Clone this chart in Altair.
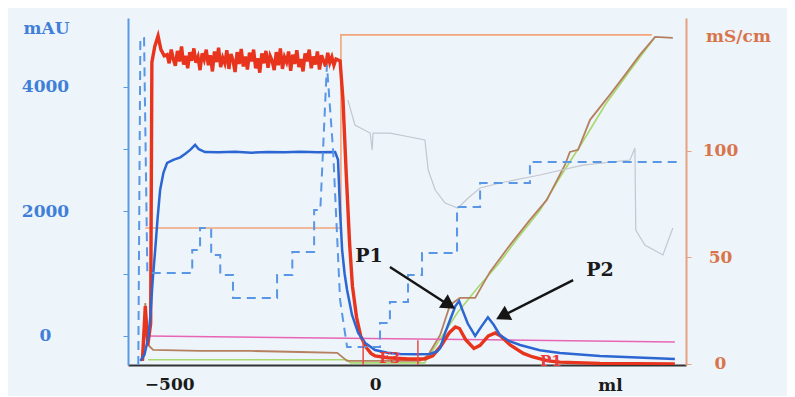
import altair as alt
import pandas as pd

# ---------------- data (x: ml ; left y: mAU ; right y: mS/cm) ----------------
# UV trace (red) – rise, noisy plateau, wash-out, elution peaks
red_pre_x = [-565, -558, -552, -545, -542, -535, -527, -520, -512]
red_pre_y = [-400, 480, -150, 200, 4400, 4650, 4820, 4600, 4500]
red_plat_x = list(range(-505, -94, 5))
red_plat_y = [4520, 4380, 4600, 4450, 4340, 4580, 4410, 4650, 4360, 4500,
              4300, 4560, 4420, 4620, 4390, 4480, 4270, 4540, 4440, 4600,
              4350, 4510, 4250, 4570, 4400, 4630, 4320, 4470, 4380, 4590,
              4290, 4530, 4430, 4240, 4560, 4370, 4610, 4330, 4490, 4280,
              4550, 4410, 4600, 4300, 4460, 4230, 4540, 4380, 4580, 4310,
              4500, 4420, 4270, 4560, 4350, 4620, 4290, 4480, 4400, 4570,
              4260, 4520, 4370, 4590, 4320, 4450, 4250, 4540, 4410, 4600,
              4300, 4490, 4360, 4570, 4280, 4510, 4420, 4330, 4550, 4390,
              4480, 4350, 4450]
red_post_x = [-85, -78, -70, -62, -55, -45, -35, -22, -10, 0, 30, 80, 120, 140,
              160, 180, 195, 205, 220, 240, 255, 275, 292, 305, 328, 360, 383,
              420, 449, 546, 728]
red_post_y = [4420, 3800, 2600, 1500, 800, 300, 0, -180, -280, -320, -350, -370,
              -370, -320, -160, 50, 145, 120, -60, -200, -150, 0, 48, 0, -145,
              -280, -337, -400, -420, -440, -450]

# second UV trace (blue, solid)
blue_x = [-570, -560, -550, -546, -540, -534, -528, -522, -514, -505, -490, -473,
          -460, -449, -437, -428, -413, -380, -340, -300, -260, -220, -182, -140,
          -97, -90, -85, -80, -74, -68, -56, -41, -24, 0, 30, 61, 100, 133, 150,
          158, 170, 182, 195, 204, 212, 225, 243, 258, 274, 288, 303, 325, 352,
          400, 449, 546, 728]
blue_y = [-400, -300, 0, 300, 900, 1380, 1900, 2345, 2620, 2780, 2830, 2870,
          2930, 2990, 3070, 3000, 2955, 2950, 2960, 2945, 2955, 2950, 2960, 2950,
          2955, 2830, 2000, 1380, 1000, 740, 337, 48, -112, -225, -270, -289, -295,
          -289, -250, -193, 50, 257, 480, 560, 420, 200, 0, 150, 300, 180, 16, -80,
          -145, -230, -273, -321, -370]

# step trace (blue, dashed)
dash_x = [-575, -570, -561, -553, -444, -444, -425, -425, -398, -398, -376, -376,
          -345, -345, -238, -238, -201, -201, -148, -148, -133, -117, -102, -85,
          -68, 12, 12, 36, 36, 80, 80, 114, 114, 199, 199, 255, 255, 376, 376, 733]
dash_y = [-466, 4786, 4786, 1012, 1012, 1381, 1381, 1734, 1734, 1301, 1301, 980,
          980, 610, 610, 980, 980, 1349, 1349, 2024, 2024, 4352, 2987, 578,
          -177, -177, 209, 209, 546, 546, 980, 980, 1333, 1333, 2072, 2072, 2457,
          2457, 2794, 2794]

# pink baseline trace
pink_x = [-552, 728]
pink_y = [0, -95]

# grey trace (upper right)
grey_x = [-66, -49, -12, -7, -5, 36, 85, 121, 129, 146, 170, 201, 226, 255, 303,
          400, 505, 619, 631, 633, 655, 699, 723]
grey_y = [3790, 3389, 3260, 2987, 3260, 3260, 3196, 3148, 2666, 2345, 2136, 2056,
          2216, 2377, 2457, 2586, 2746, 2827, 3019, 1702, 1461, 1301, 1734]

# conductivity (brown, right axis)
cond_x = [-563, -558, -551, -539, -425, -303, -182, -92, -68, 109, 129, 158, 182,
          206, 243, 279, 328, 376, 417, 461, 473, 493, 522, 570, 607, 643, 680, 723]
cond_y = [1.9, 28.6, 8.9, 6.6, 6.1, 6.1, 5.6, 5.2, 1.4, 1.4, 4.2, 13.6, 27.7,
          31.0, 31.0, 43.2, 55.9, 67.6, 77.0, 93.4, 99.5, 100.5, 114.6, 126.3,
          135.7, 145.1, 153.5, 153.1]

# gradient (green, right axis)
grad_x = [-551, -68, -60, 120, 200, 250, 300, 350, 400, 450, 500, 560, 620, 680]
grad_y = [2.0, 2.0, 0.5, 0.5, 24, 36, 47, 60, 72, 88, 103, 122, 138, 153.5]

# orange set-point line (right axis)
set_x = [-558, -83, -83, 672]
set_y = [63.8, 63.8, 154.5, 154.5]

# fraction marks
frac_x = [-29, 104]

# annotations
peak_labels = ["P1", "P2"]
peak_lab_x = [-15, 546]
peak_lab_y = [1285, 1060]
arrow_x1 = [36, 481]
arrow_y1 = [1108, 899]
arrow_x2 = [176, 312]
arrow_y2 = [510, 330]
head_x = [180, 309]
head_y = [500, 320]
head_angle = [33, 152]
frac_labels = ["F3", "P1"]
frac_lab_x = [36, 427]
frac_lab_y = [-353, -400]

# ---------------- chart ----------------
SERIF = "DejaVu Serif"
X_DOMAIN = [-600, 755]
L_DOMAIN = [-466, 5108]
R_DOMAIN = [-0.5, 162.4]
FS = 17


def xenc():
    return alt.X("x:Q", scale=alt.Scale(domain=X_DOMAIN, nice=False, zero=False),
                 axis=alt.Axis(values=[-500, 0], format="d", title="ml", grid=False,
                               tickSize=0, labelPadding=19, labelBaseline="middle",
                               labelFont=SERIF, labelFontWeight="bold", labelFontSize=FS,
                               labelColor="#1a1a1a", domainColor="#333333", domainWidth=2,
                               titleFont=SERIF, titleFontWeight="bold", titleFontSize=FS,
                               titleColor="#1a1a1a", titleX=482, titleY=20,
                               titleBaseline="middle", titleAlign="center"))


def yl():
    return alt.Y("y:Q", scale=alt.Scale(domain=L_DOMAIN, nice=False, zero=False),
                 axis=alt.Axis(orient="left", values=[0, 1000, 2000, 3000, 4000],
                               labelExpr="datum.value % 2000 === 0 ? format(datum.value, 'd') : ''",
                               title="mAU", grid=False, tickSize=5, tickColor="#5b9ae0",
                               domainColor="#5b9ae0", domainWidth=2, labelPadding=78,
                               labelAlign="center", labelBaseline="middle", labelFont=SERIF,
                               labelFontWeight="bold", labelFontSize=FS, labelColor="#3f7fd8",
                               titleFont=SERIF, titleFontWeight="bold", titleFontSize=FS,
                               titleColor="#3f7fd8", titleAngle=0, titleX=-82, titleY=10,
                               titleAlign="center", titleBaseline="middle"))


def yr():
    return alt.Y("y:Q", scale=alt.Scale(domain=R_DOMAIN, nice=False, zero=False),
                 axis=alt.Axis(orient="right", values=[0, 50, 100], format="d",
                               title="mS/cm", grid=False, tickSize=5, tickColor="#e8a080",
                               domainColor="#e8a080", domainWidth=2, labelPadding=29,
                               labelAlign="center", labelBaseline="middle", labelFont=SERIF,
                               labelFontWeight="bold", labelFontSize=FS, labelColor="#d9744a",
                               titleFont=SERIF, titleFontWeight="bold", titleFontSize=FS,
                               titleColor="#d9744a", titleAngle=0, titleX=52, titleY=18,
                               titleAlign="center", titleBaseline="middle"))


def line(xs, ys, color, width, yenc, dash=None, opacity=1.0):
    df = pd.DataFrame({"x": xs, "y": ys, "i": list(range(len(xs)))})
    kw = dict(color=color, strokeWidth=width, opacity=opacity, clip=True)
    if dash:
        kw["strokeDash"] = dash
    return alt.Chart(df).mark_line(**kw).encode(x=xenc(), y=yenc(), order="i:Q")


red_x = red_pre_x + red_plat_x + red_post_x
red_y = red_pre_y + red_plat_y + red_post_y

right = alt.layer(
    line(set_x, set_y, "#f2a57a", 1.6, yr),
    line(grad_x, grad_y, "#a9d86e", 1.6, yr),
    line(cond_x, cond_y, "#b5805f", 1.8, yr),
)

frac_df = pd.DataFrame({"x": frac_x, "y": [-70, -70], "y2": [-466, -466]})
arrow_df = pd.DataFrame({"x": arrow_x1, "y": arrow_y1, "x2": arrow_x2, "y2": arrow_y2})
head_df = pd.DataFrame({"x": head_x, "y": head_y, "a": head_angle})
plab_df = pd.DataFrame({"x": peak_lab_x, "y": peak_lab_y, "t": peak_labels})
flab_df = pd.DataFrame({"x": frac_lab_x, "y": frac_lab_y, "t": frac_labels})

left = alt.layer(
    line(pink_x, pink_y, "#e865b5", 1.5, yl),
    line(grey_x, grey_y, "#c3c7cf", 1.2, yl),
    line(red_x, red_y, "#e8341c", 3.4, yl),
    line(blue_x, blue_y, "#2c66d2", 2.5, yl),
    line(dash_x, dash_y, "#5a96e6", 2.0, yl, dash=[9, 6]),
    alt.Chart(frac_df).mark_rule(color="#e84a4a", strokeWidth=1.5).encode(
        x=xenc(), y=yl(), y2="y2:Q"),
    alt.Chart(arrow_df).mark_rule(color="#151515", strokeWidth=2.5).encode(
        x=xenc(), y=yl(), x2="x2:Q", y2="y2:Q"),
    alt.Chart(head_df).mark_point(shape="triangle-right", filled=True, size=260,
                                  color="#151515", opacity=1).encode(
        x=xenc(), y=yl(), angle=alt.Angle("a:Q", scale=None)),
    alt.Chart(plab_df).mark_text(font=SERIF, fontWeight="bold", fontSize=19,
                                 color="#1a1a1a").encode(x=xenc(), y=yl(), text="t:N"),
    alt.Chart(flab_df).mark_text(font=SERIF, fontWeight="bold", fontSize=15,
                                 color="#e83c3c").encode(x=xenc(), y=yl(), text="t:N"),
)

chart = alt.layer(right, left).resolve_scale(y="independent").properties(
    width=558, height=347,
    autosize=alt.AutoSizeParams(type="none"),
    padding={"left": 120, "top": 10, "right": 101, "bottom": 31},
    background="#edf4fa",
).configure_view(stroke=None)

chart.save("out.html", embed_options={"renderer": "svg", "actions": False})
